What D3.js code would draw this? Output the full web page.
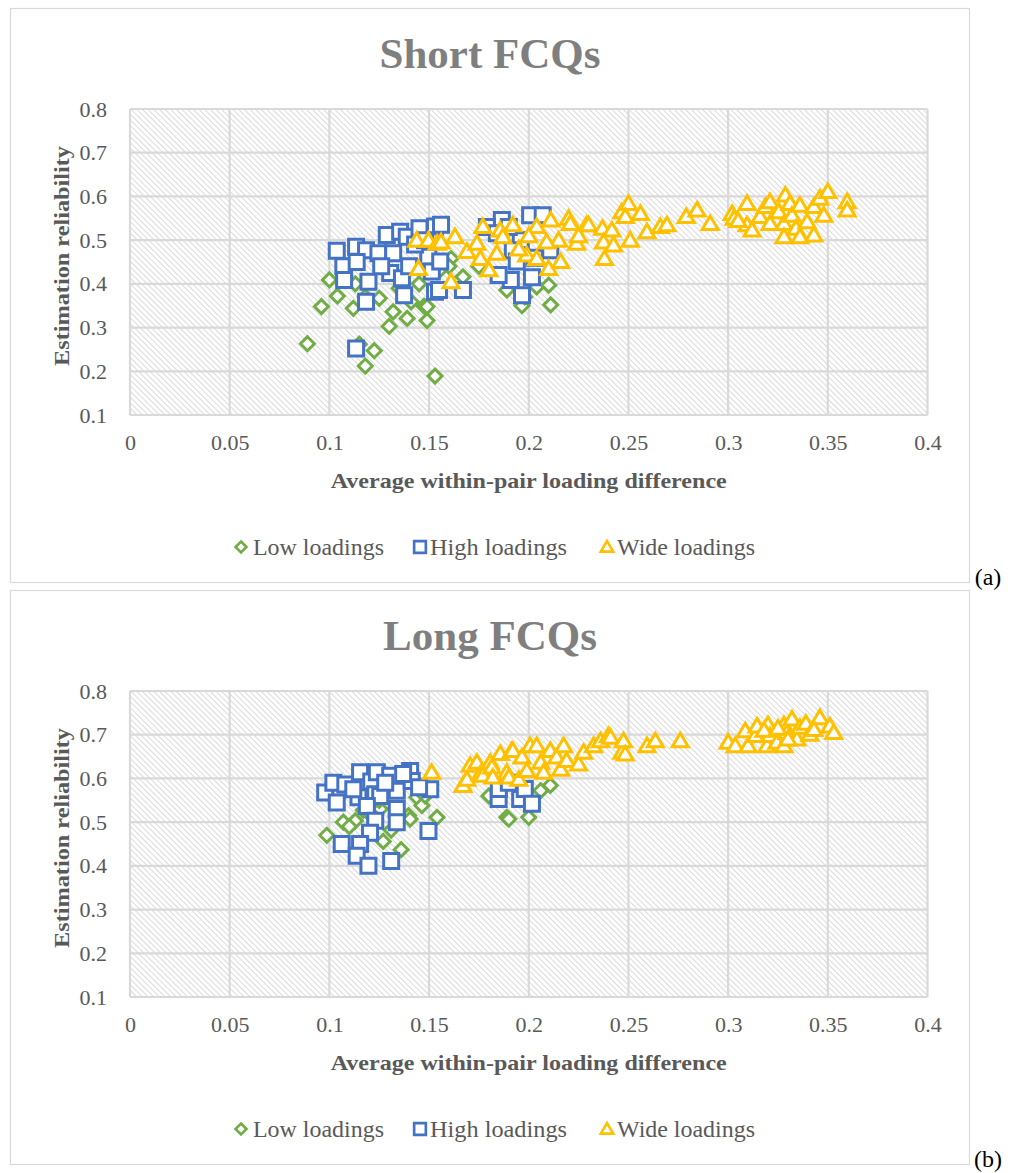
<!DOCTYPE html>
<html>
<head>
<meta charset="utf-8">
<script src="https://cdn.jsdelivr.net/npm/d3@7"></script>
<style>
  body { margin: 0; background: #fff; }
  text { font-family: "Liberation Serif", "Times New Roman", serif; }
</style>
</head>
<body>
<div id="chart"></div>
<script>

// data, [loading difference, reliability]
let shortLow = [[0.089,0.263],[0.096,0.348],[0.100,0.409],[0.104,0.372],[0.112,0.344],[0.113,0.40],[0.118,0.212],
    [0.1225,0.247],[0.125,0.367],[0.130,0.303],[0.132,0.336],[0.139,0.321],[0.141,0.359],[0.1475,0.349],[0.149,0.316],
    [0.153,0.189],[0.149,0.348],[0.161,0.458],[0.167,0.416],[0.189,0.386],[0.1966,0.35],[0.204,0.393],[0.21,0.397],
    [0.211,0.352],[0.118,0.37],[0.135,0.39],[0.145,0.40],[0.155,0.43],[0.175,0.44],[0.185,0.42],[0.16,0.44],
    [0.198,0.37],[0.115,0.262]];
let shortHigh = [[0.1037,0.476],[0.1134,0.485],[0.1184,0.477],[0.107,0.44],[0.1137,0.45],[0.1074,0.409],[0.1196,0.405],
    [0.1184,0.359],[0.1134,0.252],[0.1246,0.470],[0.1288,0.512],[0.132,0.470],[0.1305,0.425],[0.126,0.44],[0.1375,0.374],
    [0.1355,0.519],[0.1388,0.508],[0.1452,0.527],[0.153,0.531],[0.156,0.535],[0.153,0.382],[0.1364,0.413],[0.1496,0.462],
    [0.1514,0.428],[0.1556,0.451],[0.155,0.386],[0.167,0.386],[0.1865,0.546],[0.2007,0.557],[0.207,0.557],[0.191,0.409],
    [0.2016,0.415],[0.1966,0.374],[0.1849,0.42],[0.196,0.50],[0.192,0.477],[0.179,0.53],[0.194,0.451],[0.184,0.516],
    [0.2108,0.477],[0.143,0.49],[0.148,0.50],[0.14,0.44],[0.19,0.53],[0.203,0.46]];
let shortWide = [[0.1438,0.50],[0.1497,0.50],[0.1447,0.435],[0.154,0.493],[0.156,0.496],[0.163,0.508],[0.161,0.405],
    [0.169,0.474],[0.1757,0.458],[0.18,0.432],[0.177,0.531],[0.184,0.47],[0.1857,0.523],[0.192,0.535],[0.199,0.466],
    [0.204,0.531],[0.204,0.458],[0.21,0.435],[0.216,0.451],[0.211,0.546],[0.22,0.55],[0.229,0.535],[0.215,0.50],
    [0.209,0.496],[0.187,0.508],[0.174,0.493],[0.2208,0.538],[0.224,0.493],[0.230,0.535],[0.237,0.527],[0.2375,0.496],
    [0.238,0.458],[0.2417,0.523],[0.2425,0.489],[0.2467,0.565],[0.25,0.584],[0.2484,0.554],[0.2509,0.50],[0.256,0.561],
    [0.2593,0.519],[0.266,0.531],[0.2693,0.535],[0.279,0.554],[0.2844,0.569],[0.291,0.538],[0.302,0.561],[0.3095,0.584],
    [0.3095,0.535],[0.312,0.523],[0.316,0.554],[0.3187,0.577],[0.321,0.588],[0.321,0.538],[0.3254,0.565],[0.328,0.538],
    [0.3287,0.603],[0.331,0.584],[0.328,0.508],[0.332,0.557],[0.334,0.527],[0.336,0.58],[0.336,0.508],[0.3396,0.542],
    [0.343,0.577],[0.343,0.512],[0.346,0.596],[0.348,0.557],[0.350,0.611],[0.3597,0.588],[0.3597,0.569],[0.303,0.55],
    [0.305,0.545],[0.225,0.51],[0.195,0.48],[0.2,0.51]];

let longLow = [[0.0987,0.47],[0.107,0.50],[0.113,0.503],[0.117,0.527],[0.1255,0.53],[0.127,0.456],[0.131,0.482],
    [0.136,0.437],[0.1397,0.515],[0.1439,0.557],[0.1464,0.538],[0.154,0.511],[0.1405,0.507],[0.12,0.52],[0.11,0.49],
    [0.18,0.56],[0.189,0.511],[0.19,0.507],[0.20,0.511],[0.206,0.572],[0.2108,0.584],[0.195,0.58],[0.125,0.55],[0.148,0.56]];
let longHigh = [[0.0979,0.568],[0.1037,0.545],[0.102,0.59],[0.108,0.586],[0.1154,0.614],[0.1146,0.557],[0.112,0.575],
    [0.121,0.593],[0.123,0.564],[0.1238,0.614],[0.1255,0.56],[0.1188,0.537],[0.1305,0.606],[0.1338,0.572],[0.1338,0.530],
    [0.1338,0.50],[0.123,0.503],[0.1405,0.617],[0.1413,0.594],[0.1506,0.575],[0.1497,0.48],[0.1204,0.476],[0.1062,0.45],
    [0.1154,0.45],[0.1137,0.423],[0.1196,0.40],[0.131,0.411],[0.128,0.59],[0.137,0.61],[0.145,0.58],[0.1849,0.553],
    [0.1957,0.553],[0.185,0.576],[0.198,0.576],[0.2016,0.542],[0.19,0.59]];
let longWide = [[0.1513,0.614],[0.167,0.584],[0.169,0.598],[0.1706,0.63],[0.174,0.637],[0.1757,0.61],[0.177,0.607],
    [0.1807,0.637],[0.1815,0.626],[0.182,0.603],[0.1857,0.657],[0.189,0.614],[0.19,0.603],[0.1915,0.664],[0.192,0.664],
    [0.195,0.598],[0.1966,0.649],[0.199,0.618],[0.2007,0.675],[0.204,0.675],[0.206,0.637],[0.2074,0.614],[0.2108,0.664],
    [0.214,0.649],[0.216,0.621],[0.2175,0.675],[0.219,0.641],[0.225,0.633],[0.2275,0.66],[0.2325,0.675],[0.236,0.686],
    [0.24,0.698],[0.241,0.694],[0.2467,0.66],[0.2475,0.686],[0.2484,0.656],[0.2593,0.675],[0.2635,0.686],[0.276,0.686],
    [0.300,0.683],[0.3036,0.675],[0.3086,0.709],[0.310,0.675],[0.3137,0.698],[0.3145,0.72],[0.3195,0.675],[0.320,0.723],
    [0.321,0.698],[0.3245,0.683],[0.328,0.675],[0.328,0.723],[0.3295,0.705],[0.332,0.736],[0.3345,0.69],[0.336,0.717],
    [0.339,0.726],[0.341,0.701],[0.346,0.739],[0.351,0.72],[0.353,0.705],[0.318,0.71],[0.325,0.715],[0.343,0.712],[0.33,0.69]];

let seriesNames = ["Low loadings", "High loadings", "Wide loadings"];
let panelTitles = ["Short FCQs", "Long FCQs"];
let panelTags = ["(a)", "(b)"];
let xTicks = [0, 0.05, 0.1, 0.15, 0.2, 0.25, 0.3, 0.35, 0.4];
let yTicks = [0.1, 0.2, 0.3, 0.4, 0.5, 0.6, 0.7, 0.8];
let xTitle = "Average within-pair loading difference";
let yTitle = "Estimation reliability";

let svgWidth = 1019;
let svgHeight = 1173;

// plot area inside each panel
let margin = {
    top: 109,
    left: 130
};
let width = 797.5;
let height = 306;
let panelStep = 582;
// chart area frame; the title sits over its centre
let frame = { x: 10.5, y: 8.5, w: 959, h: 574 };

let colors = ["#70ad47", "#4472c4", "#ffc000"];
// marker outlines, centred on the point
let shapes = [
    "M0,-7L7,0L0,7L-7,0Z",
    "M-7.5,-7.5H7.5V7.5H-7.5Z",
    "M0,-7.6L8,6H-8Z"
];
// legend entries: marker centre and where the label starts
let legendMarkX = [241, 420, 607];
let legendTextX = [253, 430, 617];
let legendTextW = [131, 137, 138];

let svg = d3
    .select("#chart")
    .append("svg")
    .attr("width", svgWidth)
    .attr("height", svgHeight);

svg.append("rect")
    .attr("width", svgWidth)
    .attr("height", svgHeight)
    .attr("fill", "#fff");

// diagonal hatch for the plot background
let pattern = svg.append("defs").append("pattern")
    .attr("id", "hatch")
    .attr("width", 4)
    .attr("height", 4)
    .attr("patternUnits", "userSpaceOnUse")
    .attr("patternTransform", "rotate(-45)");
pattern.append("rect")
    .attr("width", 4)
    .attr("height", 4)
    .attr("fill", "#fff");
pattern.append("line")
    .attr("x1", 0).attr("y1", 0)
    .attr("x2", 0).attr("y2", 4)
    .attr("stroke", "#cbcbcb")
    .attr("stroke-width", 1.4);

let xLinearScale = d3.scaleLinear()
    .domain([0, 0.4])
    .range([0, width]);

let yLinearScale = d3.scaleLinear()
    .domain([0.1, 0.8])
    .range([height, 0]);

function drawPanel(i, seriesData) {
    let panel = svg.append("g")
        .attr("transform", `translate(0,${i * panelStep})`);

    // chart border
    panel.append("rect")
        .attr("x", frame.x)
        .attr("y", frame.y)
        .attr("width", frame.w)
        .attr("height", frame.h)
        .attr("fill", "none")
        .attr("stroke", "#d9d9d9")
        .attr("stroke-width", 1.2);

    panel.append("text")
        .attr("x", frame.x + frame.w / 2)
        .attr("y", 68)
        .attr("text-anchor", "middle")
        .attr("font-size", 43)
        .attr("font-weight", "bold")
        .attr("fill", "#7f7f7f")
        .text(panelTitles[i]);

    panel.append("text")
        .attr("x", 988)
        .attr("y", 585)
        .attr("text-anchor", "middle")
        .attr("font-size", 24)
        .attr("fill", "#000")
        .text(panelTags[i]);

    let chartGroup = panel.append("g")
        .attr("transform", `translate(${margin.left},${margin.top})`);

    chartGroup.append("rect")
        .attr("width", width)
        .attr("height", height)
        .attr("fill", "url(#hatch)");

    // gridlines
    chartGroup.selectAll(".ygrid")
        .data(yTicks)
        .enter()
        .append("line")
        .attr("x1", 0)
        .attr("x2", width)
        .attr("y1", d => yLinearScale(d))
        .attr("y2", d => yLinearScale(d))
        .attr("stroke", "#d9d9d9")
        .attr("stroke-width", 2.2);

    chartGroup.selectAll(".xgrid")
        .data(xTicks)
        .enter()
        .append("line")
        .attr("y1", 0)
        .attr("y2", height)
        .attr("x1", d => xLinearScale(d))
        .attr("x2", d => xLinearScale(d))
        .attr("stroke", "#d9d9d9")
        .attr("stroke-width", 2.2);

    // axes, labels only
    let bottomAxis = d3.axisBottom(xLinearScale)
        .tickValues(xTicks)
        .tickSize(0)
        .tickPadding(19)
        .tickFormat(d => String(+d.toFixed(2)));
    let leftAxis = d3.axisLeft(yLinearScale)
        .tickValues(yTicks)
        .tickSize(0)
        .tickPadding(23)
        .tickFormat(d => d.toFixed(1));

    let xAxis = chartGroup.append("g")
        .attr("transform", `translate(0, ${height})`)
        .call(bottomAxis);
    let yAxis = chartGroup.append("g")
        .call(leftAxis);

    [xAxis, yAxis].forEach(function(ax) {
        ax.select(".domain").remove();
        ax.selectAll("text")
            .attr("font-size", 22)
            .attr("fill", "#595959");
    });

    chartGroup.append("text")
        .attr("x", width / 2)
        .attr("y", height + 73)
        .attr("text-anchor", "middle")
        .attr("font-size", 22)
        .attr("font-weight", "bold")
        .attr("fill", "#595959")
        .attr("textLength", 396)
        .attr("lengthAdjust", "spacingAndGlyphs")
        .text(xTitle);

    chartGroup.append("text")
        .attr("transform", "rotate(-90)")
        .attr("x", 0 - height / 2 + 6)
        .attr("y", -61)
        .attr("text-anchor", "middle")
        .attr("font-size", 22)
        .attr("font-weight", "bold")
        .attr("fill", "#595959")
        .attr("textLength", 220)
        .attr("lengthAdjust", "spacingAndGlyphs")
        .text(yTitle);

    // points, one group per series
    seriesData.forEach(function(points, s) {
        chartGroup.append("g")
            .selectAll("path")
            .data(points)
            .enter()
            .append("path")
            .attr("d", shapes[s])
            .attr("transform", d => `translate(${xLinearScale(d[0])},${yLinearScale(d[1])})`)
            .attr("fill", "#fff")
            .attr("stroke", colors[s])
            .attr("stroke-width", 3)
            .attr("stroke-linejoin", "miter");
    });

    // legend
    let legend = panel.append("g")
        .attr("transform", "translate(0,547)");
    seriesNames.forEach(function(name, s) {
        legend.append("path")
            .attr("d", shapes[s])
            .attr("transform", `translate(${legendMarkX[s]},0) scale(0.78)`)
            .attr("fill", "#fff")
            .attr("stroke", colors[s])
            .attr("stroke-width", 3.4);
        legend.append("text")
            .attr("x", legendTextX[s])
            .attr("dy", "0.35em")
            .attr("font-size", 23)
            .attr("fill", "#595959")
            .attr("textLength", legendTextW[s])
            .attr("lengthAdjust", "spacingAndGlyphs")
            .text(name);
    });
}

drawPanel(0, [shortLow, shortHigh, shortWide]);
drawPanel(1, [longLow, longHigh, longWide]);

</script>
</body>
</html>
